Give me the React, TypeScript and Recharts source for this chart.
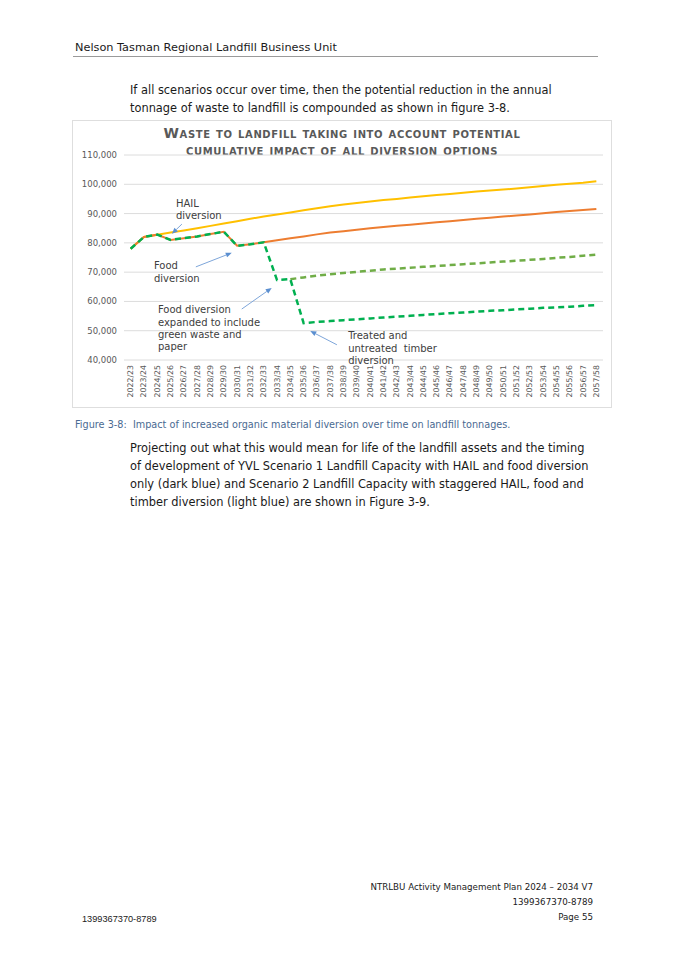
import React from 'react';
import {
  LineChart, Line, CartesianGrid, XAxis, YAxis, ReferenceDot, ReferenceLine,
} from 'recharts';

const years = [
  '2022/23', '2023/24', '2024/25', '2025/26', '2026/27', '2027/28', '2028/29', '2029/30',
  '2030/31', '2031/32', '2032/33', '2033/34', '2034/35', '2035/36', '2036/37', '2037/38',
  '2038/39', '2039/40', '2040/41', '2041/42', '2042/43', '2043/44', '2044/45', '2045/46',
  '2046/47', '2047/48', '2048/49', '2049/50', '2050/51', '2051/52', '2052/53', '2053/54',
  '2054/55', '2055/56', '2056/57', '2057/58',
];

// no diversion
const baseline = [
  78000, 82000, 82800, 83500, 84200, 85000, 85800, 86600, 87400, 88200, 89000, 89700,
  90400, 91100, 91800, 92500, 93100, 93600, 94100, 94600, 95000, 95500, 95900, 96300,
  96700, 97100, 97500, 97900, 98200, 98600, 99000, 99400, 99800, 100200, 100500, 101000,
];

// HAIL + food diversion
const hailFood = [
  78000, 82000, 82800, 81000, 81600, 82200, 83000, 83800, 79000, 79500, 80200, 80900,
  81600, 82200, 82900, 83500, 84000, 84500, 85000, 85400, 85800, 86200, 86600, 87000,
  87400, 87800, 88200, 88600, 89000, 89300, 89700, 90100, 90500, 90900, 91200, 91600,
];

// food diversion expanded (green waste + paper)
const expanded = [
  null, null, null, null, null, null, null, null, null, null, null, null,
  67600, 68200, 68800, 69300, 69700, 70100, 70500, 70900, 71200, 71500, 71800, 72100,
  72400, 72700, 73000, 73300, 73600, 73900, 74200, 74500, 74900, 75200, 75600, 76000,
];

// plus treated and untreated timber
const timber = [
  78000, 82000, 82800, 81000, 81600, 82200, 83000, 83800, 79000, 79500, 80200, 67300,
  67600, 52600, 53000, 53300, 53600, 53900, 54200, 54500, 54800, 55100, 55400, 55700,
  56000, 56200, 56500, 56800, 57000, 57300, 57500, 57800, 58000, 58200, 58500, 58700,
];

const yTicks = [40000, 50000, 60000, 70000, 80000, 90000, 100000, 110000];

// callouts, in chart units (year index, tonnes)
const notes = [
  { lines: ['HAIL', 'diversion'], i: 3.4, v: 93600 },
  { lines: ['Food', 'diversion'], i: 1.75, v: 72100 },
  { lines: ['Food diversion', 'expanded to include', 'green waste and', 'paper'], i: 2.05, v: 57100 },
  { lines: ['Treated and', 'untreated  timber', 'diversion'], i: 16.35, v: 48200 },
];
const arrows = [
  { from: [3.85, 86400], to: [3.1, 83100] },
  { from: [4.9, 71800], to: [7.6, 76600] },
  { from: [8.35, 57400], to: [10.6, 64600] },
  { from: [15.5, 45200], to: [13.5, 49900] },
];

const footerLines = ['NTRLBU Activity Management Plan 2024 \u2013 2034 V7', '1399367370-8789', 'Page 55'];

const data = years.map((y, i) => ({
  i,
  year: y,
  baseline: baseline[i],
  hailFood: hailFood[i],
  expanded: expanded[i],
  timber: timber[i],
}));

const font = '"DejaVu Sans", Verdana, sans-serif';

function XTick(props: any) {
  const { x, y, payload } = props;
  return (
    <text
      transform={`translate(${x},${y}) rotate(-90)`}
      textAnchor="end"
      dominantBaseline="central"
      fontSize={7.8}
      fill="#595959"
      fontFamily={font}
    >
      {years[payload.value]}
    </text>
  );
}

const noteShape = (lines: string[]) => (p: any) => (
  <text x={p.cx} y={p.cy} fontSize={10} fill="#404040" fontFamily={font} style={{ whiteSpace: 'pre' }}>
    {lines.map((l, k) => (
      <tspan key={k} x={p.cx} dy={k === 0 ? 3.5 : 12.3}>{l}</tspan>
    ))}
  </text>
);

const arrowShape = (p: any) => {
  const { x1, y1, x2, y2 } = p;
  const a = Math.atan2(y2 - y1, x2 - x1);
  const L = 6;
  const w = 2.5;
  const bx = x2 - L * Math.cos(a);
  const by = y2 - L * Math.sin(a);
  const pts = `${x2},${y2} ${bx + w * Math.sin(a)},${by - w * Math.cos(a)} ${bx - w * Math.sin(a)},${by + w * Math.cos(a)}`;
  return (
    <g>
      <line x1={x1} y1={y1} x2={bx} y2={by} stroke="#7EA6DA" strokeWidth={1} />
      <polygon points={pts} fill="#5B8FD0" />
    </g>
  );
};

const fmt = (v: number) => v.toLocaleString('en-US');

const txt: React.CSSProperties = {
  position: 'absolute', fontFamily: font, whiteSpace: 'pre', color: '#1a1a1a', lineHeight: '18px',
};

function App() {
  return (
    <div style={{ position: 'absolute', left: 0, top: 0, width: 675, height: 955, background: '#fff' }}>
      <div style={{ ...txt, left: 75, top: 39, fontSize: 11.3 }}>Nelson Tasman Regional Landfill Business Unit</div>
      <div style={{ position: 'absolute', left: 73, top: 56, width: 525, height: 1, background: '#9a9a9a' }} />

      <div style={{ ...txt, left: 130, top: 82, fontSize: 11.4, lineHeight: '17.5px' }}>
        {'If all scenarios occur over time, then the potential reduction in the annual\ntonnage of waste to landfill is compounded as shown in figure 3-8.'}
      </div>

      <div style={{ position: 'absolute', left: 72, top: 120, width: 540, height: 288, border: '1px solid #dedede', boxSizing: 'border-box' }}>
        <div style={{
          position: 'absolute', left: 0, top: 4, width: '100%', textAlign: 'center', fontFamily: font,
          fontWeight: 'bold', fontVariant: 'small-caps', fontSize: 14, lineHeight: '17px', color: '#595959',
          letterSpacing: 0.6, whiteSpace: 'pre',
        }}
        >
          {'Waste to landfill taking into account potential\ncumulative impact of all diversion options'}
        </div>
        <LineChart width={538} height={286} data={data} margin={{ top: 34, right: 8, bottom: 7, left: 0 }}>
          <CartesianGrid vertical={false} stroke="#dcdcdc" />
          <XAxis
            dataKey="i"
            type="number"
            domain={[-0.5, 35.5]}
            ticks={years.map((_, i) => i)}
            interval={0}
            tick={<XTick />}
            tickSize={0}
            tickMargin={5}
            axisLine={false}
            tickLine={false}
            height={40}
          />
          <YAxis
            domain={[40000, 110000]}
            ticks={yTicks}
            interval={0}
            tickFormatter={fmt}
            tick={{ fontSize: 8.5, fill: '#595959', fontFamily: font }}
            axisLine={false}
            tickLine={false}
            tickSize={0}
            tickMargin={7}
            width={51}
          />
          <Line type="linear" dataKey="baseline" stroke="#FFC000" strokeWidth={2} dot={false} isAnimationActive={false} />
          <Line type="linear" dataKey="hailFood" stroke="#ED7D31" strokeWidth={2} dot={false} isAnimationActive={false} />
          <Line type="linear" dataKey="expanded" stroke="#70AD47" strokeWidth={2.5} strokeDasharray="6 4" dot={false} isAnimationActive={false} />
          <Line type="linear" dataKey="timber" stroke="#00B050" strokeWidth={2.5} strokeDasharray="6 4" dot={false} isAnimationActive={false} />
          {arrows.map((a, k) => (
            <ReferenceLine
              key={`a${k}`}
              segment={[{ x: a.from[0], y: a.from[1] }, { x: a.to[0], y: a.to[1] }]}
              shape={arrowShape}
            />
          ))}
          {notes.map((n, k) => (
            <ReferenceDot key={`n${k}`} x={n.i} y={n.v} r={0} shape={noteShape(n.lines)} />
          ))}
        </LineChart>
      </div>

      <div style={{ ...txt, left: 75, top: 416, fontSize: 9.7, color: '#4A6A92' }}>
        {'Figure 3-8:  Impact of increased organic material diversion over time on landfill tonnages.'}
      </div>

      <div style={{ ...txt, left: 130, top: 439, fontSize: 11.4 }}>
        {'Projecting out what this would mean for life of the landfill assets and the timing\nof development of YVL Scenario 1 Landfill Capacity with HAIL and food diversion\nonly (dark blue) and Scenario 2 Landfill Capacity with staggered HAIL, food and\ntimber diversion (light blue) are shown in Figure 3-9.'}
      </div>

      <div style={{ position: 'absolute', left: 293, width: 300, top: 880, fontFamily: font, fontSize: 8.7, color: '#1a1a1a' }}>
        {footerLines.map((l) => (
          <div key={l} style={{ textAlign: 'right', whiteSpace: 'nowrap', lineHeight: '15px' }}>{l}</div>
        ))}
      </div>

      <div style={{ ...txt, left: 82, top: 910, fontSize: 9.2, fontFamily: '"Liberation Sans", Arial, sans-serif' }}>
        1399367370-8789
      </div>
    </div>
  );
}

export default App;
